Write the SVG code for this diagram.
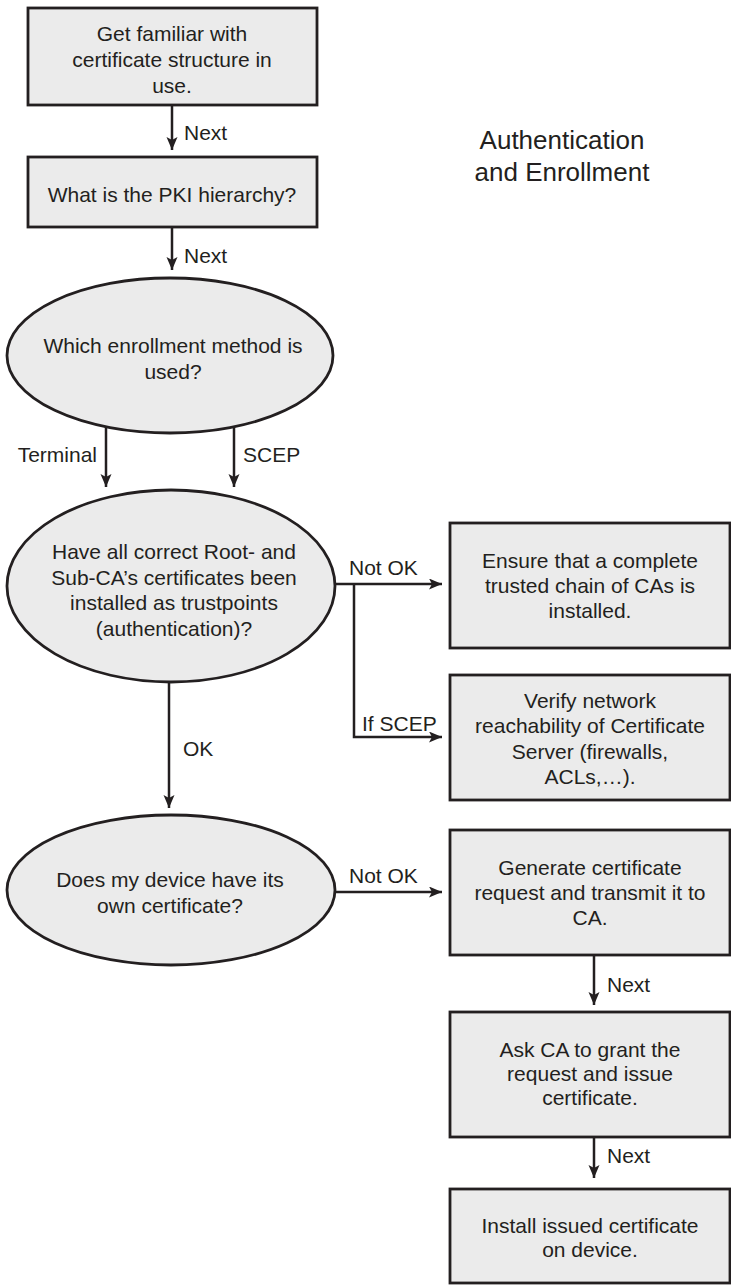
<svg xmlns="http://www.w3.org/2000/svg" width="731" height="1285" viewBox="0 0 731 1285">
<defs>
<style>
.node{fill:#ebebeb;stroke:#231f20;stroke-width:2.8}
.t{font-family:"Liberation Sans",Arial,Helvetica,sans-serif;font-size:21px;fill:#231f20;text-anchor:middle}
.l{font-family:"Liberation Sans",Arial,Helvetica,sans-serif;font-size:21px;fill:#231f20}
.c{fill:none;stroke:#231f20;stroke-width:2.5}
.title{font-family:"Liberation Sans",Arial,Helvetica,sans-serif;font-size:26px;fill:#231f20;text-anchor:middle}
</style>
<marker id="ah" markerUnits="userSpaceOnUse" markerWidth="14" markerHeight="12" refX="13" refY="5.5" orient="auto">
<path d="M0,0 L13,5.5 L0,11 L3,5.5 z" fill="#231f20"/>
</marker>
</defs>
<rect width="731" height="1285" fill="#ffffff"/>
<g id="connectors">
<line class="c" x1="172" y1="105" x2="172" y2="150" marker-end="url(#ah)"/>
<line class="c" x1="172" y1="227" x2="172" y2="270" marker-end="url(#ah)"/>
<line class="c" x1="106" y1="420" x2="106" y2="487" marker-end="url(#ah)"/>
<line class="c" x1="234" y1="420" x2="234" y2="487" marker-end="url(#ah)"/>
<line class="c" x1="300" y1="584" x2="442" y2="584" marker-end="url(#ah)"/>
<polyline class="c" points="354,584 354,737 442,737" marker-end="url(#ah)"/>
<line class="c" x1="169" y1="670" x2="169" y2="808" marker-end="url(#ah)"/>
<line class="c" x1="300" y1="892" x2="442" y2="892" marker-end="url(#ah)"/>
<line class="c" x1="594" y1="955" x2="594" y2="1005" marker-end="url(#ah)"/>
<line class="c" x1="594" y1="1137" x2="594" y2="1178" marker-end="url(#ah)"/>
<text class="l" x="184" y="140">Next</text>
<text class="l" x="184" y="263">Next</text>
<text class="l" x="97" y="462" text-anchor="end">Terminal</text>
<text class="l" x="243" y="462">SCEP</text>
<text class="l" x="349" y="575">Not OK</text>
<text class="l" x="362" y="731">If SCEP</text>
<text class="l" x="183" y="756">OK</text>
<text class="l" x="349" y="883">Not OK</text>
<text class="l" x="607" y="992">Next</text>
<text class="l" x="607" y="1163">Next</text>
</g>
<g id="n1">
<rect class="node" x="28" y="8" width="289" height="97"/>
<text class="t" x="172" y="41">Get familiar with</text>
<text class="t" x="172" y="67">certificate structure in</text>
<text class="t" x="172" y="93">use.</text>
</g>
<g id="n2">
<rect class="node" x="28" y="157" width="289" height="70"/>
<text class="t" x="172" y="202">What is the PKI hierarchy?</text>
</g>
<g id="title">
<text class="title" x="562" y="149">Authentication</text>
<text class="title" x="562" y="181">and Enrollment</text>
</g>
<g id="n3">
<ellipse class="node" cx="170" cy="355.5" rx="163" ry="77.5"/>
<text class="t" x="173" y="353">Which enrollment method is</text>
<text class="t" x="173" y="379">used?</text>
</g>
<g id="n4">
<ellipse class="node" cx="171" cy="586" rx="164" ry="96"/>
<text class="t" x="174" y="559">Have all correct Root- and</text>
<text class="t" x="174" y="585">Sub-CA’s certificates been</text>
<text class="t" x="174" y="610">installed as trustpoints</text>
<text class="t" x="174" y="636">(authentication)?</text>
</g>
<g id="n5">
<rect class="node" x="450" y="523" width="280" height="125"/>
<text class="t" x="590" y="568">Ensure that a complete</text>
<text class="t" x="590" y="593">trusted chain of CAs is</text>
<text class="t" x="590" y="618">installed.</text>
</g>
<g id="n6">
<rect class="node" x="450" y="675" width="280" height="125"/>
<text class="t" x="590" y="708">Verify network</text>
<text class="t" x="590" y="733">reachability of Certificate</text>
<text class="t" x="590" y="759">Server (firewalls,</text>
<text class="t" x="590" y="784">ACLs,…).</text>
</g>
<g id="n7">
<ellipse class="node" cx="171" cy="890" rx="164" ry="75"/>
<text class="t" x="170" y="887">Does my device have its</text>
<text class="t" x="170" y="913">own certificate?</text>
</g>
<g id="n8">
<rect class="node" x="450" y="830" width="280" height="125"/>
<text class="t" x="590" y="875">Generate certificate</text>
<text class="t" x="590" y="900">request and transmit it to</text>
<text class="t" x="590" y="925">CA.</text>
</g>
<g id="n9">
<rect class="node" x="450" y="1012" width="280" height="125"/>
<text class="t" x="590" y="1057">Ask CA to grant the</text>
<text class="t" x="590" y="1081">request and issue</text>
<text class="t" x="590" y="1105">certificate.</text>
</g>
<g id="n10">
<rect class="node" x="450" y="1189" width="280" height="94"/>
<text class="t" x="590" y="1233">Install issued certificate</text>
<text class="t" x="590" y="1257">on device.</text>
</g>
</svg>
